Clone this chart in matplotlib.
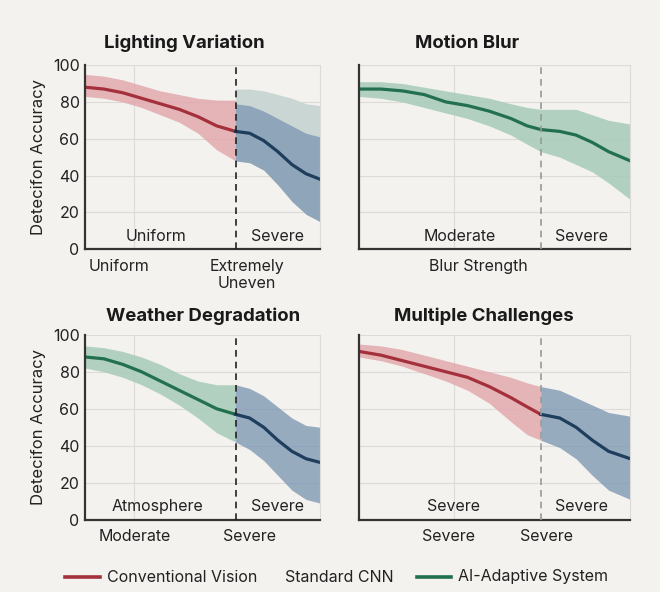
import matplotlib
matplotlib.use("Agg")
import matplotlib.pyplot as plt
from matplotlib.lines import Line2D

plt.rcParams['font.family'] = ['Inter', 'DejaVu Sans']

BG = '#f3f2ef'
RED = '#a4303c'
RED_BAND = '#e3a9ae'
BLUE = '#1f3d5c'
BLUE_BAND = '#8099b4'
GREEN = '#23704f'
GREEN_BAND = '#a6cbb7'
LIGHT_BAND = '#c9d6d3'

# --- Lighting Variation ---
light_x1 = [0, 8, 16, 24, 32, 40, 48, 56, 64]
light_y1 = [88, 87, 85, 82, 79, 76, 72, 67, 64]
light_up1 = [95, 94, 92, 89, 86, 84, 82, 81, 81]
light_lo1 = [83, 82, 80, 77, 73, 69, 63, 54, 48]
light_x2 = [64, 70, 76, 82, 88, 94, 100]
light_y2 = [64, 63, 59, 53, 46, 41, 38]
light_up2 = [79, 78, 75, 71, 67, 63, 61]
light_lo2 = [48, 47, 43, 35, 26, 19, 15]
light_pale = [87, 87, 86, 84, 82, 79, 78]

# --- Motion Blur ---
blur_x = [0, 8, 16, 24, 32, 40, 48, 56, 62, 67, 74, 80, 86, 92, 100]
blur_y = [87, 87, 86, 84, 80, 78, 75, 71, 67, 65, 64, 62, 58, 53, 48]
blur_up = [91, 91, 90, 88, 86, 84, 82, 79, 77, 76, 76, 76, 73, 70, 68]
blur_lo = [83, 82, 80, 77, 74, 71, 67, 62, 57, 53, 50, 46, 42, 36, 27]

# --- Weather Degradation ---
weather_x1 = [0, 8, 16, 24, 32, 40, 48, 56, 64]
weather_y1 = [88, 87, 84, 80, 75, 70, 65, 60, 57]
weather_up1 = [94, 93, 91, 88, 84, 79, 75, 73, 73]
weather_lo1 = [82, 80, 77, 73, 68, 62, 55, 47, 42]
weather_x2 = [64, 70, 76, 82, 88, 94, 100]
weather_y2 = [57, 55, 50, 43, 37, 33, 31]
weather_up2 = [73, 71, 67, 61, 55, 51, 50]
weather_lo2 = [42, 38, 32, 24, 16, 11, 9]

# --- Multiple Challenges ---
multi_x1 = [0, 8, 16, 24, 32, 40, 48, 56, 62, 67]
multi_y1 = [91, 89, 86, 83, 80, 77, 72, 66, 61, 57]
multi_up1 = [95, 94, 92, 89, 86, 83, 80, 77, 74, 72]
multi_lo1 = [88, 86, 83, 79, 75, 70, 63, 53, 46, 43]
multi_x2 = [67, 74, 80, 86, 92, 100]
multi_y2 = [57, 55, 50, 43, 37, 33]
multi_up2 = [72, 70, 66, 62, 58, 56]
multi_lo2 = [43, 39, 33, 24, 16, 11]

fig = plt.figure(figsize=(6.6, 5.92), dpi=100, facecolor=BG)

ax1 = fig.add_axes([0.129, 0.579, 0.356, 0.311])
ax2 = fig.add_axes([0.544, 0.579, 0.411, 0.311])
ax3 = fig.add_axes([0.129, 0.122, 0.356, 0.3125])
ax4 = fig.add_axes([0.544, 0.122, 0.411, 0.3125])


def style_axes(ax, vgrid, boundary, dash_color, show_y):
    ax.set_facecolor(BG)
    ax.set_xlim(0, 100)
    ax.set_ylim(0, 100)
    for y in [20, 40, 60, 80, 100]:
        ax.axhline(y, color='#dcdbd7', lw=0.8, zorder=0)
    ax.axvline(vgrid, color='#dcdbd7', lw=0.8, zorder=0)
    ax.axvline(boundary, color=dash_color, lw=1.2, ls=(0, (4, 3)), zorder=5)
    ax.spines['top'].set_visible(False)
    ax.spines['right'].set_color('#dcdbd7')
    ax.spines['left'].set_color('#333333')
    ax.spines['left'].set_linewidth(1.6)
    ax.spines['bottom'].set_color('#333333')
    ax.spines['bottom'].set_linewidth(1.6)
    ax.tick_params(axis='x', length=0, pad=7, labelsize=11.5, colors='#222222')
    ax.tick_params(axis='y', length=0, pad=4, labelsize=11.5, colors='#222222')
    if show_y:
        ax.set_yticks([0, 20, 40, 60, 80, 100])
        ax.set_ylabel('Detecifon Accuracy', fontsize=12, color='#222222', labelpad=5)
    else:
        ax.set_yticks([])


def title(ax, text, xf, yf):
    ax.text(xf, yf, text, transform=ax.transAxes, ha='center', va='center',
            fontsize=13.4, fontweight='bold', color='#1a1a1a')


def inner(ax, text, xf):
    ax.text(xf, 7, text, ha='center', va='center', fontsize=11.5,
            color='#222222', zorder=6)


# Lighting Variation
style_axes(ax1, 21, 64, '#222222', True)
ax1.fill_between(light_x1, light_lo1, light_up1, color=RED_BAND, alpha=0.85, lw=0)
ax1.fill_between(light_x2, light_lo2, light_pale, color=LIGHT_BAND, lw=0)
ax1.fill_between(light_x2, light_lo2, light_up2, color=BLUE_BAND, alpha=0.8, lw=0)
ax1.plot(light_x1, light_y1, color=RED, lw=2.3)
ax1.plot(light_x2, light_y2, color=BLUE, lw=2.3)
ax1.set_xticks([14.5, 69], ['Uniform', 'Extremely\nUneven'])
title(ax1, 'Lighting Variation', 0.42, 1.12)
inner(ax1, 'Uniform', 30)
inner(ax1, 'Severe', 82)

# Motion Blur
style_axes(ax2, 35, 67, '#999999', False)
ax2.fill_between(blur_x, blur_lo, blur_up, color=GREEN_BAND, alpha=0.85, lw=0)
ax2.plot(blur_x, blur_y, color=GREEN, lw=2.3)
ax2.set_xticks([44], ['Blur Strength'])
title(ax2, 'Motion Blur', 0.40, 1.12)
inner(ax2, 'Moderate', 37)
inner(ax2, 'Severe', 82)

# Weather Degradation
style_axes(ax3, 21, 64, '#222222', True)
ax3.fill_between(weather_x1, weather_lo1, weather_up1, color=GREEN_BAND, alpha=0.85, lw=0)
ax3.fill_between(weather_x2, weather_lo2, weather_up2, color=BLUE_BAND, alpha=0.8, lw=0)
ax3.plot(weather_x1, weather_y1, color=GREEN, lw=2.3)
ax3.plot(weather_x2, weather_y2, color=BLUE, lw=2.3)
ax3.set_xticks([21, 70], ['Moderate', 'Severe'])
title(ax3, 'Weather Degradation', 0.5, 1.10)
inner(ax3, 'Atmosphere', 30.6)
inner(ax3, 'Severe', 82)

# Multiple Challenges
style_axes(ax4, 35, 67, '#999999', False)
ax4.fill_between(multi_x1, multi_lo1, multi_up1, color=RED_BAND, alpha=0.85, lw=0)
ax4.fill_between(multi_x2, multi_lo2, multi_up2, color=BLUE_BAND, alpha=0.8, lw=0)
ax4.plot(multi_x1, multi_y1, color=RED, lw=2.3)
ax4.plot(multi_x2, multi_y2, color=BLUE, lw=2.3)
ax4.set_xticks([33, 69], ['Severe', 'Severe'])
title(ax4, 'Multiple Challenges', 0.46, 1.10)
inner(ax4, 'Severe', 35)
inner(ax4, 'Severe', 82)

# legend row along the bottom
ly = 1 - 577 / 592
fig.add_artist(Line2D([65 / 660, 100 / 660], [ly, ly], color=RED, lw=2.6))
fig.text(107 / 660, ly, 'Conventional Vision', ha='left', va='center', fontsize=11.5, color='#222222')
fig.text(285 / 660, ly, 'Standard CNN', ha='left', va='center', fontsize=11.5, color='#222222')
fig.add_artist(Line2D([417 / 660, 451 / 660], [ly, ly], color=GREEN, lw=2.6))
fig.text(458 / 660, ly, 'AI-Adaptive System', ha='left', va='center', fontsize=11.5, color='#222222')

fig.savefig('out.png', dpi=100, facecolor=BG)
